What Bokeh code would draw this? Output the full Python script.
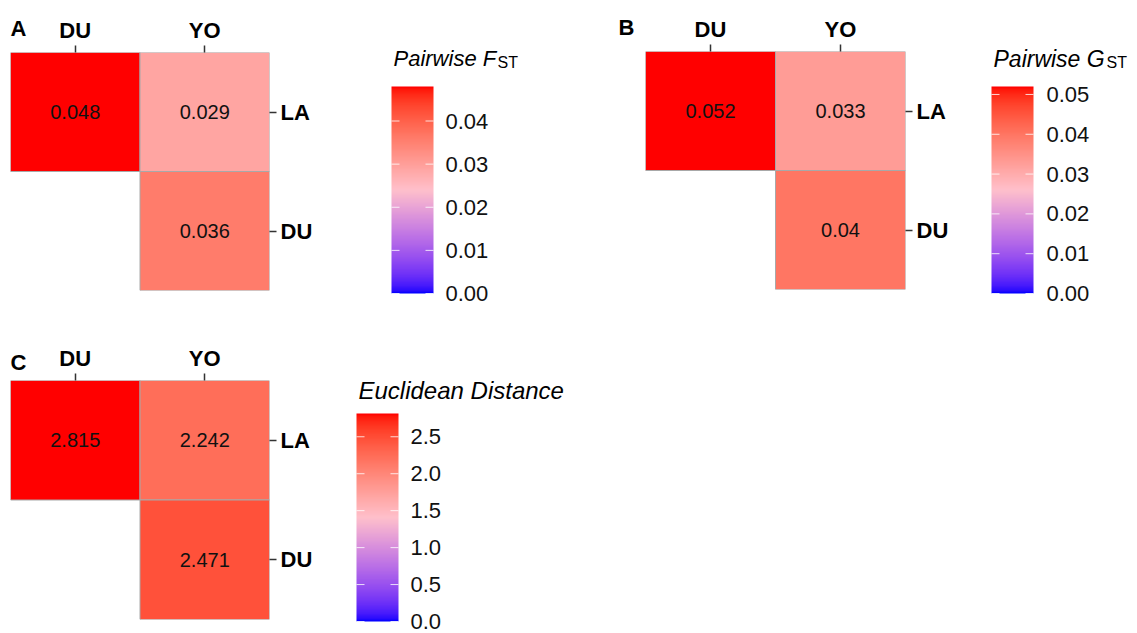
import numpy as np
from bokeh.plotting import figure
from bokeh.models import (FactorRange, Range1d, LinearColorMapper, Label, Title,
                          ColumnDataSource, Plot)
from bokeh.layouts import row, column
from bokeh.transform import transform
from bokeh.core.properties import value
from bokeh.embed import file_html
from bokeh.resources import INLINE

# ---------------- data ----------------
x_cats = ["DU", "YO"]
y_cats = ["DU", "LA"]
tile_x = ["DU", "YO", "YO"]
tile_y = ["LA", "LA", "DU"]

fst_vals = [0.048, 0.029, 0.036]
fst_text = ["0.048", "0.029", "0.036"]
fst_ticks = [0.00, 0.01, 0.02, 0.03, 0.04]
fst_tick_text = ["0.00", "0.01", "0.02", "0.03", "0.04"]

gst_vals = [0.052, 0.033, 0.04]
gst_text = ["0.052", "0.033", "0.04"]
gst_ticks = [0.00, 0.01, 0.02, 0.03, 0.04, 0.05]
gst_tick_text = ["0.00", "0.01", "0.02", "0.03", "0.04", "0.05"]

euc_vals = [2.815, 2.242, 2.471]
euc_text = ["2.815", "2.242", "2.471"]
euc_ticks = [0.0, 0.5, 1.0, 1.5, 2.0, 2.5]
euc_tick_text = ["0.0", "0.5", "1.0", "1.5", "2.0", "2.5"]

FONT = "Liberation Sans"
NOALIGN = {"frame_align": False} if "frame_align" in Plot.properties() else {}
LABEL_DY = 8   # empirical correction of Label baseline placement

# ---------------- colour scale (blue -> pink -> red, Lab interpolation) -------------
def _hex_to_rgb(h):
    h = h.lstrip("#")
    return np.array([int(h[i:i + 2], 16) for i in (0, 2, 4)], dtype=float) / 255.0

M = np.array([[0.4124564, 0.3575761, 0.1804375],
              [0.2126729, 0.7151522, 0.0721750],
              [0.0193339, 0.1191920, 0.9503041]])
MINV = np.linalg.inv(M)
WHITE = np.array([0.95047, 1.0, 1.08883])

def rgb_to_lab(rgb):
    lin = np.where(rgb <= 0.04045, rgb / 12.92, ((rgb + 0.055) / 1.055) ** 2.4)
    xyz = M @ lin / WHITE
    f = np.where(xyz > (6 / 29) ** 3, np.cbrt(xyz), xyz / (3 * (6 / 29) ** 2) + 4 / 29)
    return np.array([116 * f[1] - 16, 500 * (f[0] - f[1]), 200 * (f[1] - f[2])])

def lab_to_hex(lab):
    L, a, b = lab
    fy = (L + 16) / 116
    f = np.array([fy + a / 500, fy, fy - b / 200])
    xyz = np.where(f > 6 / 29, f ** 3, 3 * (6 / 29) ** 2 * (f - 4 / 29)) * WHITE
    lin = np.clip(MINV @ xyz, 0, 1)
    rgb = np.where(lin <= 0.0031308, 12.92 * lin, 1.055 * lin ** (1 / 2.4) - 0.055)
    rgb = np.clip(np.round(rgb * 255), 0, 255).astype(int)
    return "#%02x%02x%02x" % tuple(rgb)

LOW = rgb_to_lab(_hex_to_rgb("#0000FF"))
MID = rgb_to_lab(_hex_to_rgb("#FFC0CB"))
HIGH = rgb_to_lab(_hex_to_rgb("#FF0000"))

def make_palette(n=256):
    pal = []
    for t in np.linspace(0, 1, n):
        if t <= 0.5:
            lab = LOW + (MID - LOW) * (t / 0.5)
        else:
            lab = MID + (HIGH - MID) * ((t - 0.5) / 0.5)
        pal.append(lab_to_hex(lab))
    return pal

PALETTE = make_palette(256)

# ---------------- builders ----------------
def heat_panel(vals, texts, fw, fh, bl, br, bt, bb, letter, so_bottom, so_middle):
    vmax = max(vals)
    mapper = LinearColorMapper(palette=PALETTE, low=0, high=vmax)
    src = ColumnDataSource(dict(x=tile_x, y=tile_y, v=vals, t=texts))
    p = figure(frame_width=fw, frame_height=fh,
               x_range=FactorRange(*x_cats), y_range=FactorRange(*y_cats),
               x_axis_location="above", y_axis_location="right",
               output_backend="svg", toolbar_location=None,
               min_border_left=bl, min_border_right=br,
               min_border_top=bt, min_border_bottom=bb, **NOALIGN)
    p.title.visible = False
    p.rect(x="x", y="y", width=1, height=1, source=src,
           fill_color=transform("v", mapper), line_color="#a8a8a8", line_width=1)
    p.text(x="x", y="y", text="t", source=src, text_align="center",
           text_baseline="middle", text_font=value(FONT), text_font_size="20px",
           text_color="#111111")
    for ax in (p.xaxis[0], p.yaxis[0]):
        ax.axis_line_color = None
        ax.major_tick_out = 7
        ax.major_tick_in = 0
        ax.major_tick_line_color = "#333333"
        ax.major_tick_line_width = 1.5
        ax.major_label_text_font = FONT
        ax.major_label_text_font_size = "22px"
        ax.major_label_text_font_style = "bold"
        ax.major_label_text_color = "#000000"
        ax.major_label_standoff = 4
    p.xaxis[0].major_label_standoff = 3
    p.xgrid.visible = False
    p.ygrid.visible = False
    p.outline_line_color = None
    if letter:
        xa = p.xaxis[0]
        try:
            xa.axis_label_align = "start"
            xa.axis_label = letter
            xa.axis_label_text_font = FONT
            xa.axis_label_text_font_size = "22px"
            xa.axis_label_text_font_style = "bold"
            xa.axis_label_text_color = "#000000"
            try:
                # a tiny positive angle makes the label left-anchored at the frame's left edge
                xa.axis_label_orientation = 1e-6
                xa.axis_label_standoff = so_middle
            except Exception:
                xa.axis_label_standoff = so_bottom
        except Exception:
            xa.axis_label = None
            p.add_layout(Title(text=letter, align="left", text_font=FONT,
                               text_font_size="22px", text_font_style="bold",
                               standoff=0), "above")
    return p, mapper


def legend_fig(vals, ticks, tick_text, mapper, width, height,
               bar_left, bar_right, bar_top, bar_bottom, label_x, texts):
    """Colour-bar legend drawn in a figure whose frame fills the whole canvas.
    x is in pixels from the figure's left edge, y in data values of the scale."""
    vmax = max(vals)
    bar_h = bar_bottom - bar_top
    y0 = (bar_bottom - height) / bar_h * vmax
    y1 = bar_bottom / bar_h * vmax
    p = figure(frame_width=width, frame_height=height,
               x_range=Range1d(0, width), y_range=Range1d(y0, y1),
               x_axis_location=None, y_axis_location=None,
               output_backend="svg", toolbar_location=None,
               min_border_left=0, min_border_right=0,
               min_border_top=0, min_border_bottom=0, **NOALIGN)
    p.title.visible = False
    p.xgrid.visible = False
    p.ygrid.visible = False
    p.outline_line_color = None
    grad = np.linspace(0, vmax, 500).reshape(500, 1)
    p.image(image=[grad], x=bar_left, y=0, dw=bar_right - bar_left, dh=vmax,
            color_mapper=mapper)
    n = len(ticks)
    tsrc = ColumnDataSource(dict(y=ticks, t=tick_text,
                                 xl0=[bar_left] * n, xl1=[bar_left + 8] * n,
                                 xr0=[bar_right - 8] * n, xr1=[bar_right] * n,
                                 xt=[label_x] * n))
    p.segment(x0="xl0", x1="xl1", y0="y", y1="y", source=tsrc,
              line_color="white", line_alpha=0.8, line_width=1)
    p.segment(x0="xr0", x1="xr1", y0="y", y1="y", source=tsrc,
              line_color="white", line_alpha=0.8, line_width=1)
    p.text(x="xt", y="y", text="t", source=tsrc, text_align="left",
           text_baseline="middle", text_font=value(FONT), text_font_size="22px",
           text_color="#111111")
    for (txt, x, yb, size, style) in texts:
        p.add_layout(Label(x=x, y=height - (yb - LABEL_DY), x_units="screen", y_units="screen",
                           text=txt, text_font=FONT, text_font_size=size,
                           text_font_style=style, text_baseline="alphabetic",
                           text_color="#000000"))
    return p

# ---------------- panels ----------------
H1, H2 = 316, 317

figA, mapA = heat_panel(fst_vals, fst_text, 259, 238, 10, 71, 51, 27, "A", -26, -14)
cbA = legend_fig(fst_vals, fst_ticks, fst_tick_text, mapA, 300, H1,
                 51, 93, 86, 293, 105,
                 [("Pairwise F", 53, 66, "22px", "italic"),
                  ("ST", 157, 70, "16px", "normal"),
                  ("B", 278, 35, "22px", "bold")])

figB, mapB = heat_panel(gst_vals, gst_text, 260, 238, 5, 55, 51, 27, None, 0, 0)
cbB = legend_fig(gst_vals, gst_ticks, gst_tick_text, mapB, 177, H1,
                 31, 73, 86, 293, 86,
                 [("Pairwise G", 33, 66, "23px", "italic"),
                  ("ST", 146, 70, "16px", "normal")])

figC, mapC = heat_panel(euc_vals, euc_text, 259, 239, 10, 71, 63, 15, "C", -33, -20)
cbC = legend_fig(euc_vals, euc_ticks, euc_tick_text, mapC, 300, H2,
                 16, 58, 96, 304, 70,
                 [("Euclidean Distance", 18, 397 - 316, "24px", "italic")])

layout = column(row(figA, cbA, figB, cbB), row(figC, cbC))

open("out.html", "w").write(file_html(layout, INLINE))
